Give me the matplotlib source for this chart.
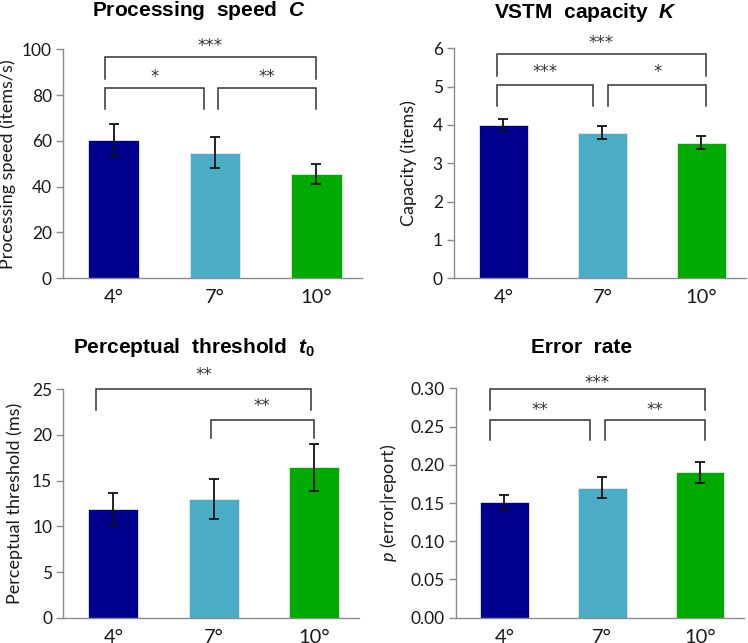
import matplotlib
matplotlib.use("Agg")
import matplotlib.pyplot as plt
import numpy as np

plt.rcParams['font.family'] = ['Lato', 'DejaVu Sans']
plt.rcParams['mathtext.fontset'] = 'custom'
plt.rcParams['mathtext.it'] = 'Lato:italic'
plt.rcParams['mathtext.rm'] = 'Lato'
plt.rcParams['mathtext.bf'] = 'Liberation Sans:bold'
plt.rcParams['mathtext.bfit'] = 'Liberation Sans:italic:bold'

# data
eccentricity = ['4°', '7°', '10°']
bar_colors = ['#00008f', '#4bacc6', '#00aa00']

speed = [60.2, 54.8, 45.7]
speed_err = [7.0, 6.8, 4.4]

capacity = [3.99, 3.80, 3.54]
capacity_err = [0.16, 0.16, 0.18]

threshold = [11.85, 12.97, 16.45]
threshold_err = [1.8, 2.2, 2.6]

error_rate = [0.151, 0.170, 0.190]
error_rate_err = [0.010, 0.014, 0.014]

# significance brackets: (x1, x2, leg bottom, top, label, label y)
speed_sig = [(-0.09, 2.0, 87, 96.5, '***', 101.5),
             (-0.09, 0.89, 73.8, 83, '*', 88),
             (1.03, 2.0, 73.8, 83, '**', 88)]
capacity_sig = [(-0.07, 2.05, 5.28, 5.84, '***', 6.13),
                (-0.07, 0.91, 4.5, 5.04, '***', 5.37),
                (1.06, 2.05, 4.5, 5.04, '*', 5.37)]
threshold_sig = [(-0.17, 1.97, 22.7, 25.0, '**', 26.6),
                 (0.97, 2.0, 19.7, 21.65, '**', 23.2)]
error_sig = [(-0.15, 2.05, 0.2712, 0.2986, '***', 0.3073),
             (-0.15, 0.87, 0.232, 0.259, '**', 0.271),
             (1.03, 2.05, 0.232, 0.259, '**', 0.271)]

fig = plt.figure(figsize=(7.48, 6.43), dpi=100)

panels = [
    ([0.0842, 0.5672, 0.3998, 0.3561], speed, speed_err, (0, 100), np.arange(0, 101, 20),
     lambda v: '%d' % v, 'Processing speed (items/s)', -0.157, speed_sig,
     r'Processing  speed  $\mathbfit{C}$', (0.265, 0.983)),
    ([0.607, 0.5672, 0.390, 0.3577], capacity, capacity_err, (0, 6), np.arange(0, 7, 1),
     lambda v: '%d' % v, 'Capacity (items)', -0.128, capacity_sig,
     r'VSTM  capacity  $\mathbfit{K}$', (0.783, 0.981)),
    ([0.0846, 0.0393, 0.3954, 0.3553], threshold, threshold_err, (0, 25), np.arange(0, 26, 5),
     lambda v: '%d' % v, 'Perceptual threshold (ms)', -0.136, threshold_sig,
     r'Perceptual  threshold  $\mathbfit{t}_\mathbf{0}$', (0.259, 0.459)),
    ([0.609, 0.0393, 0.3857, 0.3568], error_rate, error_rate_err, (0, 0.30), np.arange(0, 0.301, 0.05),
     lambda v: '%.2f' % v, r'$p$ (error|report)', -0.197, error_sig,
     'Error  rate', (0.778, 0.459)),
]

for rect, vals, errs, ylim, yticks, fmt, ylabel, labx, sigs, title, tpos in panels:
    ax = fig.add_axes(rect)
    x = np.arange(len(vals))
    ax.bar(x, vals, width=0.5, color=bar_colors, edgecolor='#e8e8e8', linewidth=0.6)
    ax.errorbar(x, vals, yerr=errs, fmt='none', ecolor='#111111', elinewidth=1.3,
                capsize=3.6, capthick=1.3)
    ax.set_xlim(-0.5, 2.45)
    ax.set_ylim(*ylim)
    ax.set_yticks(yticks)
    ax.set_yticklabels([fmt(v) for v in yticks], fontsize=12.5, color='#1a1a1a')
    ax.set_xticks(x)
    ax.set_xticklabels(eccentricity, fontsize=14.5, color='#1a1a1a')
    ax.tick_params(axis='y', direction='out', length=5, width=1, color='#8c8c8c', pad=3)
    ax.tick_params(axis='x', length=0, pad=8)
    for side in ['top', 'right']:
        ax.spines[side].set_visible(False)
    for side in ['left', 'bottom']:
        ax.spines[side].set_color('#8c8c8c')
        ax.spines[side].set_linewidth(1)
    ax.set_ylabel(ylabel, fontsize=13, color='#1a1a1a')
    ax.yaxis.set_label_coords(labx, 0.5)

    for x1, x2, y0, y1, lab, ty in sigs:
        ax.plot([x1, x1, x2, x2], [y0, y1, y1, y0], color='#333333', lw=1.1,
                clip_on=False, solid_joinstyle='miter')
        ax.text((x1 + x2) / 2, ty, lab, ha='center', va='center', fontsize=12,
                color='#333333', clip_on=False, family='DejaVu Sans')

    fig.text(tpos[0], tpos[1], title, ha='center', va='center', fontsize=15,
             fontweight='bold', family='Liberation Sans')

fig.savefig('out.png', dpi=100)
